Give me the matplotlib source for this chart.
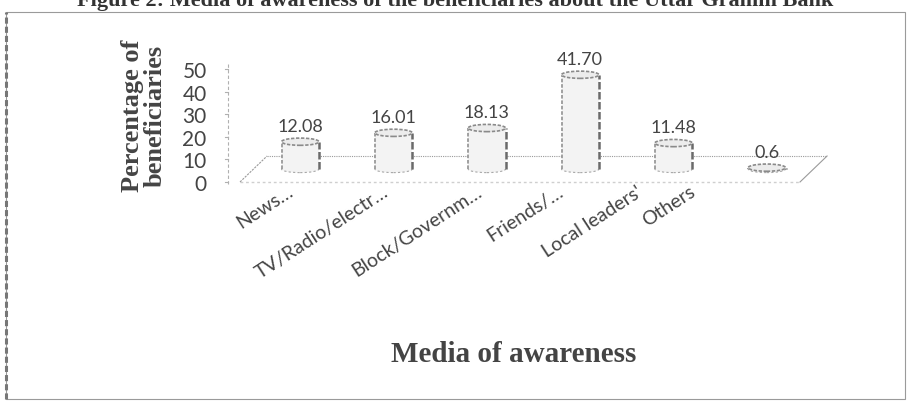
import matplotlib
matplotlib.use("Agg")
import matplotlib.pyplot as plt
from matplotlib.patches import Rectangle, Ellipse
from matplotlib.transforms import offset_copy

# Media of awareness and share of beneficiaries (%)
media = ["News…", "TV/Radio/electr…", "Block/Governm…", "Friends/…",
         "Local leaders'", "Others"]
shares = [12.08, 16.01, 18.13, 41.70, 11.48, 0.6]
share_labels = ["12.08", "16.01", "18.13", "41.70", "11.48", "0.6"]
y_ticks = [0, 10, 20, 30, 40, 50]

W, H = 912, 406
fig = plt.figure(figsize=(W / 100, H / 100), dpi=100)
fig.patch.set_facecolor("white")

# page frame and the caption running off the top
fig.add_artist(Rectangle((6 / W, 6 / H), 899 / W, 387 / H, transform=fig.transFigure,
                         fill=False, edgecolor="#9a9a9a", linewidth=0.8))
fig.add_artist(plt.Line2D([6 / W, 6 / W], [6 / H, 393 / H], transform=fig.transFigure,
                          color="#777777", linewidth=2.2, linestyle=(0, (2, 1))))
fig.text(455 / W, 1 - 1 / H, "Figure 2: Media of awareness of the beneficiaries about the Uttar Gramin Bank",
         ha="center", va="center", fontsize=16, fontweight="bold",
         family="Liberation Serif", color="#333333")

ax = fig.add_axes([240 / W, 223 / H, 560 / W, 113 / H])
ax.set_xlim(-0.5, 5.5)
ax.set_ylim(0, 50)
for s in ax.spines.values():
    s.set_visible(False)
ax.set_facecolor("none")

# oblique depth of the floor, in data units
dx, dy = 0.29, 11.5
grid = "#9a9a9a"

# floor
ax.plot([-0.5, 5.5], [0, 0], color="#cfcfcf", linewidth=1.0, linestyle=(0, (2, 2)), clip_on=False)
ax.plot([-0.5 + dx, 5.5 + dx], [dy, dy], color=grid, linewidth=0.8, linestyle=(0, (1, 1)), clip_on=False)
ax.plot([-0.5, -0.5 + dx], [0, dy], color=grid, linewidth=0.8, linestyle=(0, (2, 1)), clip_on=False)
ax.plot([5.5, 5.5 + dx], [0, dy], color=grid, linewidth=0.8, clip_on=False)

# vertical axis with small tick marks
ax.plot([-0.63, -0.63], [-1, 52], color="#b0b0b0", linewidth=0.8, linestyle=(0, (3, 2)), clip_on=False)
for t in y_ticks:
    ax.plot([-0.66, -0.63], [t, t], color="#b0b0b0", linewidth=0.8, clip_on=False)
ax.set_yticks(y_ticks)
ax.set_yticklabels([str(t) for t in y_ticks], family="Lato", fontsize=15, color="#444444")
ax.tick_params(axis="y", length=0, pad=24)

# cylinders
bw = 0.40
cap = 3.2
for i, v in enumerate(shares):
    cx = i + dx / 2
    base = dy / 2
    top = base + v
    ax.add_patch(Rectangle((cx - bw / 2, base), bw, v, facecolor="#f3f3f3",
                           edgecolor="none", clip_on=False, zorder=3))
    ax.plot([cx - bw / 2, cx - bw / 2], [base, top], color="#9a9a9a", linewidth=1.3,
            linestyle=(0, (2, 1)), clip_on=False, zorder=4)
    ax.plot([cx + bw / 2, cx + bw / 2], [base, top], color="#6a6a6a", linewidth=1.8,
            linestyle=(0, (3, 1)), clip_on=False, zorder=4)
    ax.add_patch(Ellipse((cx, base), bw, cap, facecolor="#f3f3f3", edgecolor="#a8a8a8",
                         linewidth=0.8, linestyle=(0, (2, 2)), clip_on=False, zorder=2))
    ax.add_patch(Ellipse((cx, top), bw, cap, facecolor="#ececec", edgecolor="#8a8a8a",
                         linewidth=1.2, linestyle=(0, (2, 1)), clip_on=False, zorder=5))
    ax.text(cx, top + 3.5, share_labels[i], ha="center", va="bottom", family="Lato",
            fontsize=13, color="#444444", zorder=6)

# rotated category labels, nudged sideways (pixels) where the chart crowds them
ax.set_xticks([])
nudge = [0, 2, 2, -10, -24, -64]
for i, name in enumerate(media):
    tr = offset_copy(ax.get_xaxis_transform(), fig=fig, x=nudge[i], y=0, units="dots")
    ax.text(i, 0, name, transform=tr, rotation=33, ha="right", va="top",
            rotation_mode="anchor", family="Lato", fontsize=14, color="#444444")

fig.text(144 / W, 1 - 116 / H, "Percentage of\nbeneficiaries", rotation=90, ha="center",
         va="center", family="Liberation Serif", fontweight="bold", fontsize=19,
         color="#444444", linespacing=0.95)
fig.text(514 / W, 1 - 355 / H, "Media of awareness", ha="center", va="center",
         family="Liberation Serif", fontweight="bold", fontsize=21, color="#444444")

fig.savefig("out.png", dpi=100, facecolor="white")
